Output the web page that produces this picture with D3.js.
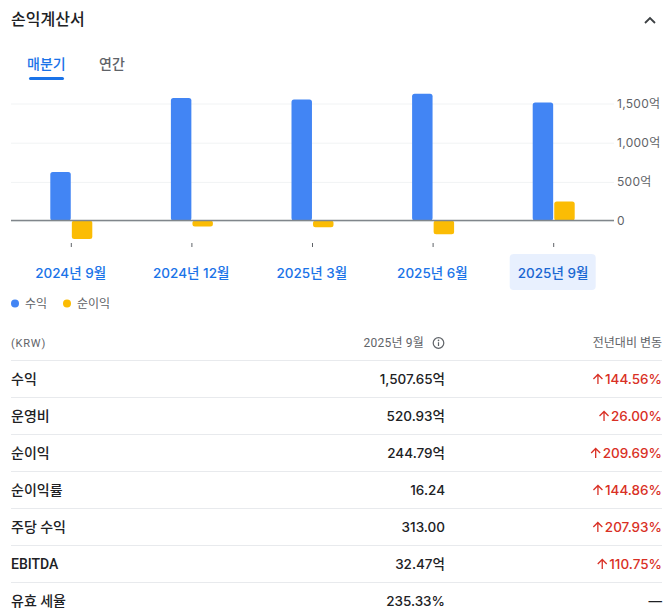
<!DOCTYPE html>
<html lang="ko">
<head>
<meta charset="UTF-8">
<script src="https://d3js.org/d3.v7.min.js"></script>
<style>
  html, body { margin: 0; background: #fff; overflow: hidden; }
  svg { display: block; }
  text { font-family: Roboto, "Noto Sans CJK KR", sans-serif; }
</style>
</head>
<body>
<div id="plot"></div>
<script>
// chart values (억 KRW)
const quarters = ["2024년 9월", "2024년 12월", "2025년 3월", "2025년 6월", "2025년 9월"];
const seriesNames = ["수익", "순이익"];
const revenue = [620, 1565, 1545, 1618, 1507.65];
const netIncome = [-235, -75, -85, -175, 244.79];
const yTicks = [0, 500, 1000, 1500];

// table
const rowLabels = ["수익", "운영비", "순이익", "순이익률", "주당 수익", "EBITDA", "유효 세율"];
const rowValues = ["1,507.65억", "520.93억", "244.79억", "16.24", "313.00", "32.47억", "235.33%"];
const rowChanges = ["144.56%", "26.00%", "209.69%", "144.86%", "207.93%", "110.75%", null];

const width = 671, height = 613;
const blue = "#4285f4", gold = "#fbbc04", linkBlue = "#1a73e8";
const grey = "#5f6368", dark = "#202124", red = "#d93025";
const roundFont = 'Inter, "Noto Sans CJK KR", sans-serif';

const svg = d3.select("#plot").append("svg")
    .attr("width", width)
    .attr("height", height);

// header
svg.append("text").attr("x", 11).attr("y", 25)
    .attr("font-size", 16).attr("font-weight", 500).attr("fill", dark)
    .text("손익계산서");
svg.append("path")
    .attr("d", "M645 23L650 18L655 23")
    .attr("fill", "none").attr("stroke", "#3c4043").attr("stroke-width", 1.8);

// tabs
svg.append("text").attr("x", 27).attr("y", 69)
    .attr("font-size", 14).attr("font-weight", 500).attr("fill", linkBlue)
    .text("매분기");
svg.append("rect").attr("x", 29).attr("y", 77).attr("width", 35).attr("height", 3)
    .attr("rx", 1.5).attr("fill", linkBlue);
svg.append("text").attr("x", 99).attr("y", 69)
    .attr("font-size", 14).attr("font-weight", 500).attr("fill", grey)
    .text("연간");

// scales
const x = d3.scaleBand().domain(quarters).range([11, 614]);
const xSeries = d3.scaleBand().domain(seriesNames).range([-21, 21]).paddingInner(0.05);
const y = d3.scaleLinear().domain([0, 1500]).range([220.6, 103]);
const color = d3.scaleOrdinal().domain(seriesNames).range([blue, gold]);

// y axis + grid
const yAxis = svg.append("g")
    .attr("transform", "translate(614,0.5)")
    .call(d3.axisRight(y).tickValues(yTicks).tickSize(0).tickPadding(3)
      .tickFormat(d => d === 0 ? "0" : d3.format(",")(d) + "억"));
yAxis.select(".domain").remove();
yAxis.selectAll("text").attr("font-size", 12).attr("fill", grey)
    .attr("letter-spacing", 0.3)
    .style("font-family", roundFont);
yAxis.selectAll(".tick line")
    .attr("stroke", "#f1f3f4")
    .attr("x1", -603).attr("x2", 0)
    .attr("stroke-width", 1);

// bars
const groups = svg.append("g").selectAll("g")
    .data(quarters)
    .join("g")
      .attr("transform", d => `translate(${x(d) + x.bandwidth() / 2},0)`);

groups.selectAll("rect")
    .data((d, i) => [
      { name: seriesNames[0], value: revenue[i] },
      { name: seriesNames[1], value: netIncome[i] }
    ])
    .join("rect")
      .attr("x", d => xSeries(d.name))
      .attr("width", xSeries.bandwidth())
      .attr("y", d => Math.min(y(d.value), y(0)))
      .attr("height", d => Math.abs(y(d.value) - y(0)))
      .attr("rx", 2.5)
      .attr("fill", d => color(d.name));

// zero line
svg.append("line")
    .attr("x1", 11).attr("x2", 614)
    .attr("y1", y(0)).attr("y2", y(0))
    .attr("stroke", "#80868b").attr("stroke-width", 1.5);

// selected quarter highlight
svg.append("rect")
    .attr("x", x(quarters[4]) + x.bandwidth() / 2 - 44).attr("y", 254)
    .attr("width", 86).attr("height", 36).attr("rx", 4)
    .attr("fill", "#e8f0fe");

// x axis: small ticks + labels
const xAxis = svg.append("g")
    .attr("transform", "translate(0,243)")
    .call(d3.axisBottom(x).tickSize(4).tickPadding(21));
xAxis.select(".domain").remove();
xAxis.selectAll(".tick line").attr("stroke", "#5f6368");
xAxis.selectAll("text")
    .attr("font-size", 13.5).attr("font-weight", 500)
    .attr("dx", -0.7)
    .attr("fill", (d, i) => i === 4 ? "#1967d2" : linkBlue)
    .style("font-family", roundFont);

// legend
const legendX = [15, 67];
const legend = svg.append("g").selectAll("g")
    .data(seriesNames)
    .join("g")
      .attr("transform", (d, i) => `translate(${legendX[i]},303.5)`);
legend.append("circle").attr("r", 4).attr("fill", d => color(d));
legend.append("text").attr("x", 10).attr("y", 4)
    .attr("font-size", 12).attr("fill", grey)
    .text(d => d);

// table
const rowY = d3.scalePoint().domain(rowLabels).range([379, 601]);
const headerY = 347;

svg.append("text").attr("x", 11).attr("y", headerY)
    .attr("font-size", 11).attr("letter-spacing", 0.8).attr("fill", grey)
    .text("(KRW)");
svg.append("text").attr("x", 424).attr("y", headerY).attr("text-anchor", "end")
    .attr("font-size", 12).attr("letter-spacing", 0.2).attr("fill", grey)
    .text("2025년 9월");
const info = svg.append("g").attr("transform", "translate(438.5,343)");
info.append("circle").attr("r", 5.3).attr("fill", "none").attr("stroke", grey).attr("stroke-width", 1.2);
info.append("line").attr("y1", -0.8).attr("y2", 3).attr("stroke", grey).attr("stroke-width", 1.2);
info.append("circle").attr("cy", -2.6).attr("r", 0.8).attr("fill", grey);
svg.append("text").attr("x", 662).attr("y", headerY).attr("text-anchor", "end")
    .attr("font-size", 12).attr("fill", grey)
    .text("전년대비 변동");

svg.append("g").selectAll("line")
    .data(rowLabels)
    .join("line")
      .attr("x1", 11).attr("x2", 662)
      .attr("y1", d => rowY(d) - 18.5).attr("y2", d => rowY(d) - 18.5)
      .attr("stroke", "#e8eaed");

const rows = svg.append("g").selectAll("g")
    .data(rowLabels)
    .join("g")
      .attr("transform", d => `translate(0,${rowY(d) + 5})`);

rows.append("text").attr("x", 11)
    .attr("font-size", 14).attr("font-weight", 500).attr("fill", dark)
    .text(d => d);
rows.append("text").attr("x", 445).attr("text-anchor", "end")
    .attr("font-size", 13.5).attr("font-weight", 500).attr("fill", dark)
    .style("font-family", roundFont)
    .text((d, i) => rowValues[i]);

rows.append("text").attr("class", "change").attr("x", 662).attr("text-anchor", "end")
    .attr("font-size", 13.5).attr("font-weight", 500)
    .attr("fill", (d, i) => rowChanges[i] ? red : dark)
    .style("font-family", roundFont)
    .text((d, i) => rowChanges[i] || "—");

// up arrows sit just left of the change text
rows.filter((d, i) => rowChanges[i]).each(function() {
  const g = d3.select(this);
  const left = g.select(".change").node().getBBox().x;
  g.append("path")
    .attr("d", `M${left - 7} 0V-9.5M${left - 11.5} -5L${left - 7} -9.5L${left - 2.5} -5`)
    .attr("fill", "none").attr("stroke", red).attr("stroke-width", 1.3);
});
</script>
</body>
</html>
